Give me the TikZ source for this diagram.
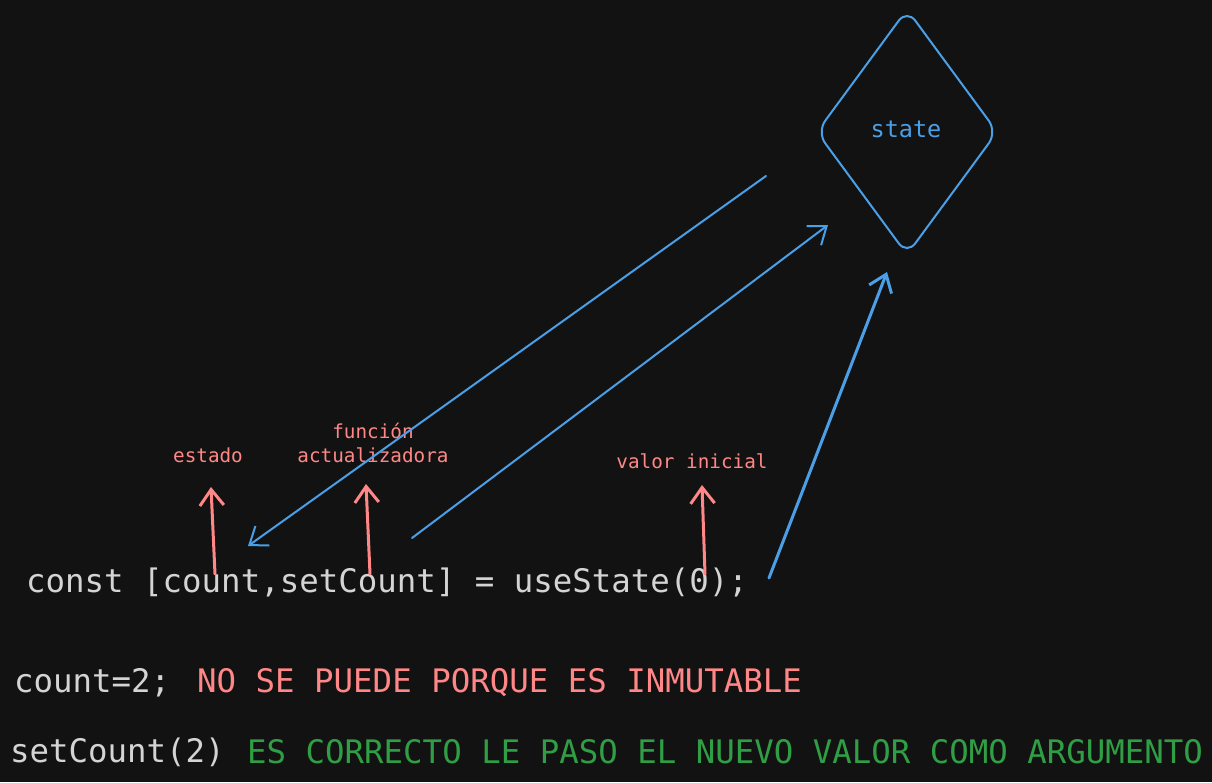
\documentclass[tikz,border=0pt]{standalone}
\usepackage{fontspec}
\setmonofont{DejaVu Sans Mono}
\usetikzlibrary{shapes.geometric,arrows.meta}
\definecolor{bg}{HTML}{121212}
\definecolor{bluec}{HTML}{4A9FE6}
\definecolor{redc}{HTML}{FF8787}
\definecolor{greenc}{HTML}{2F9E44}
\definecolor{codec}{HTML}{D4D4D4}
\tikzset{
  code/.style={anchor=west,inner sep=0pt,text=codec,font=\ttfamily\fontsize{32.4}{36}\selectfont},
  redtxt/.style={anchor=west,inner sep=0pt,text=redc,font=\ttfamily\fontsize{32.4}{36}\selectfont},
  greentxt/.style={anchor=west,inner sep=0pt,text=greenc,font=\ttfamily\fontsize{32.4}{36}\selectfont},
  lbl/.style={inner sep=0pt,text=redc,font=\ttfamily\fontsize{19.3}{24}\selectfont,align=center},
  barb/.style={-{Straight Barb[length=16pt,width=24pt]}},
  bluearr/.style={barb,draw=bluec,line width=2pt,line cap=round},
  bluearrthick/.style={barb,draw=bluec,line width=3pt,line cap=round},
  redarr/.style={barb,draw=redc,line width=3pt,line cap=round},
}
\begin{document}
\begin{tikzpicture}[x=1pt,y=-1pt]
\fill[bg] (0,0) rectangle (1212,782);
\useasboundingbox (0,0) rectangle (1212,782);
% diamond
\node[draw=bluec,line width=2pt,diamond,aspect=0.736,minimum width=181pt,minimum height=246pt,inner sep=0pt,rounded corners=14pt] (dia) at (907,132) {};
\node[inner sep=0pt,text=bluec,font=\ttfamily\fontsize{23.5}{28}\selectfont] (state) at (906,129) {state};
% code lines
\node[code] (l1) at (26,582) {const [count,setCount] = useState(0);};
\node[code] (l2) at (14,683) {count=2;};
\node[redtxt] (l2r) at (197,683) {NO SE PUEDE PORQUE ES INMUTABLE};
\node[code] (l3) at (10,752) {setCount(2)};
\node[greentxt] (l3g) at (247,752) {ES CORRECTO LE PASO EL NUEVO VALOR COMO ARGUMENTO};
% labels
\node[lbl] (estado) at (208,455) {estado};
\node[lbl] (func) at (373,443) {función\\actualizadora};
\node[lbl] (valor) at (692,461) {valor inicial};
% coordinates
\coordinate (a1s) at (766,176);
\coordinate (a1e) at (248,546);
\coordinate (a2s) at (412,538);
\coordinate (a2e) at (828,225);
\coordinate (a3s) at (769,578);
\coordinate (a3e) at (887,272);
\coordinate (r1s) at (215,574);
\coordinate (r1e) at (211,487);
\coordinate (r2s) at (370,574);
\coordinate (r2e) at (366,484);
\coordinate (r3s) at (705,574);
\coordinate (r3e) at (702,485);
% arrows
\draw[bluearr] (a1s) -- (a1e);
\draw[bluearr] (a2s) -- (a2e);
\draw[bluearrthick] (a3s) -- (a3e);
\draw[redarr] (r1s) -- (r1e);
\draw[redarr] (r2s) -- (r2e);
\draw[redarr] (r3s) -- (r3e);
\end{tikzpicture}
\end{document}
